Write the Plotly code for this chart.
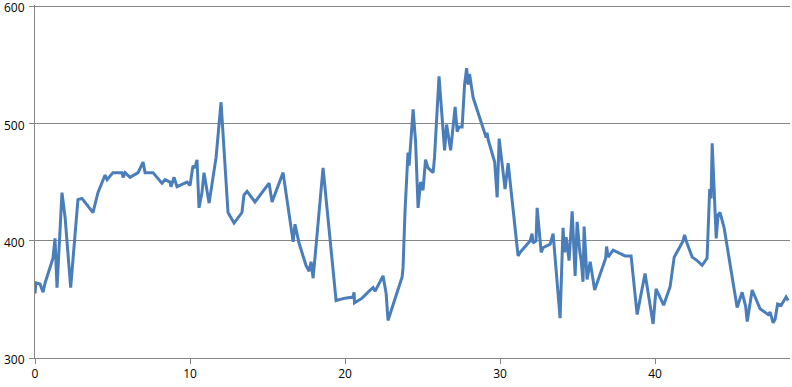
import plotly.graph_objects as go

x_vals = [0, 0.06, 0.32, 0.52, 0.65, 0.97, 1.16, 1.29, 1.42, 1.74, 1.94, 2.30, 2.77, 3.03, 3.74, 4.06,
          4.52, 4.65, 5.03, 5.61, 5.68, 5.81, 6.13, 6.65, 6.97, 7.10, 7.61, 8.19, 8.39, 8.71, 8.77, 8.97,
          9.16, 9.81, 10.0, 10.19, 10.32, 10.45, 10.58, 10.77, 10.90, 11.23, 11.68, 12.0, 12.45, 12.84,
          13.35, 13.48, 13.68, 14.19, 15.10, 15.29, 16.0, 16.65, 16.77, 17.03, 17.48, 17.68, 17.81, 17.94,
          18.58, 19.42, 20.0, 20.52, 20.58, 20.61, 21.10, 21.55, 21.81, 21.94, 22.45, 22.65, 22.77, 23.68,
          23.74, 23.87, 24.06, 24.13, 24.39, 24.55, 24.71, 24.87, 25.03, 25.19, 25.35, 25.68, 25.77, 26.06,
          26.42, 26.55, 26.81, 27.10, 27.23, 27.35, 27.55, 27.71, 27.84, 27.94, 28.03, 28.26, 28.58, 29.0,
          29.10, 29.16, 29.23, 29.65, 29.81, 29.94, 30.32, 30.52, 30.84, 31.16, 31.29, 31.94, 32.06, 32.13,
          32.32, 32.39, 32.65, 32.77, 33.23, 33.42, 33.87, 34.06, 34.16, 34.26, 34.45, 34.65, 34.84, 34.97,
          35.13, 35.23, 35.35, 35.42, 35.61, 35.81, 36.10, 36.32, 36.81, 36.87, 36.97, 37.29, 38.06, 38.45,
          38.84, 39.35, 39.87, 40.06, 40.55, 40.97, 41.16, 41.23, 41.61, 41.81, 41.90, 42.0, 42.39, 42.52,
          42.71, 43.03, 43.35, 43.52, 43.61, 43.68, 43.84, 43.94, 44.06, 44.19, 44.45, 45.29, 45.61, 45.84,
          45.94, 46.26, 46.77, 47.29, 47.42, 47.61, 47.74, 47.90, 48.13, 48.45, 48.58]

y_vals = [355, 364, 363, 356, 364, 378, 385, 402, 360, 441, 420, 360, 435, 436, 424, 441,
          456, 452, 458, 458, 454, 458, 454, 458, 467, 458, 458, 449, 452, 450, 446, 454,
          446, 450, 447, 464, 462, 469, 428, 441, 458, 432, 471, 518, 424, 415,
          424, 439, 442, 433, 449, 433, 458, 399, 414, 398, 379, 374, 382, 368,
          462, 349, 351, 352, 356, 347, 351, 357, 360, 357, 370, 355, 332, 369,
          377, 426, 475, 464, 512, 484, 428, 450, 443, 469, 462, 458, 471, 540,
          477, 499, 477, 514, 493, 497, 497, 533, 547, 533, 542, 522, 509, 493,
          488, 492, 486, 467, 437, 487, 444, 466, 429, 387, 390, 400, 406, 398,
          400, 428, 390, 394, 397, 406, 334, 411, 390, 403, 383, 425, 370, 416,
          392, 383, 365, 412, 367, 382, 358, 367, 385, 395, 386, 392, 387, 387,
          337, 372, 329, 359, 345, 361, 380, 386, 395, 400, 405, 400, 386, 385,
          383, 379, 385, 444, 436, 483, 435, 402, 422, 424, 411, 343, 356, 344,
          331, 358, 342, 337, 339, 330, 333, 346, 345, 352, 349]

y_ticks = [300, 400, 500, 600]
x_ticks = [0, 10, 20, 30, 40]

fig = go.Figure()
fig.add_trace(go.Scatter(
    x=x_vals, y=y_vals, mode="lines",
    line=dict(color="#4A7EBB", width=3),
    hoverinfo="skip", showlegend=False, cliponaxis=False,
))

grid_color = "#868686"
fig.update_layout(
    width=792, height=387,
    margin=dict(l=35, r=2, t=5, b=29),
    paper_bgcolor="white", plot_bgcolor="white",
    font=dict(family="Open Sans, Liberation Sans, sans-serif", size=12, color="black"),
    showlegend=False,
)
fig.update_xaxes(
    range=[0, 48.7], tickvals=x_ticks, ticktext=[str(v) for v in x_ticks],
    showgrid=False, zeroline=False, automargin=False, ticklabeloverflow="allow",
    showline=True, linecolor=grid_color, linewidth=1,
    ticks="outside", ticklen=5, tickcolor=grid_color,
)
fig.update_yaxes(
    range=[300, 600.9], tickvals=y_ticks, ticktext=[str(v) for v in y_ticks],
    showgrid=True, gridcolor=grid_color, gridwidth=1, zeroline=False, automargin=False,
    ticklabeloverflow="allow", ticklabelshift=2, ticklabelstandoff=2,
    showline=True, linecolor=grid_color, linewidth=1,
    ticks="outside", ticklen=5, tickcolor=grid_color,
)

fig.write_html(
    "out.html",
    config={"displayModeBar": False},
    post_script="document.body.style.margin='0';document.body.style.padding='0';",
)
